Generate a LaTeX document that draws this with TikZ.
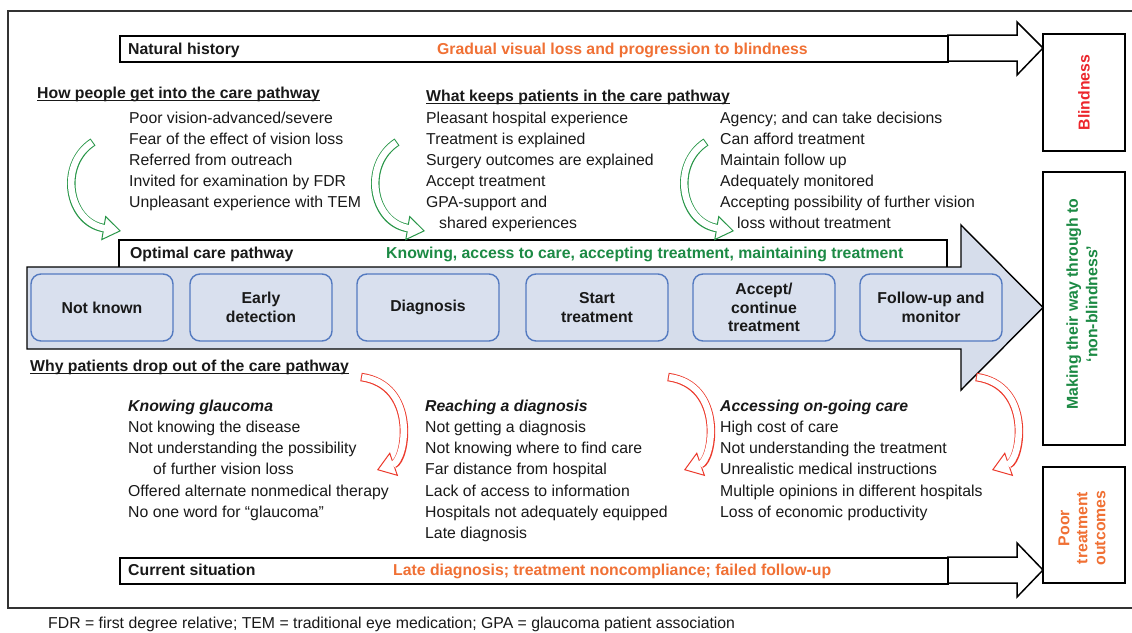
\documentclass[tikz,border=0pt]{standalone}
\usepackage{fontspec}
\setmainfont{Liberation Sans}
\usetikzlibrary{arrows.meta}
\definecolor{txt}{RGB}{25,25,25}
\definecolor{orng}{RGB}{240,112,52}
\definecolor{grntxt}{RGB}{28,138,68}
\definecolor{redtxt}{RGB}{236,38,44}
\definecolor{grnarr}{RGB}{40,150,72}
\definecolor{redarr}{RGB}{236,58,44}
\definecolor{bandfill}{RGB}{214,221,235}
\definecolor{boxfill}{RGB}{217,224,238}
\definecolor{boxline}{RGB}{84,122,192}
\newcommand\hollowcurve[2]{%
  \draw[#1, line width=8.5pt, -{Triangle[length=18pt,width=25pt,line width=1pt,fill=white]}] #2;
  \draw[white, line width=6.5pt, shorten <=1pt, shorten >=16.5pt] #2;
}
\begin{document}
\begin{tikzpicture}[x=1pt,y=-1pt,
  every node/.style={font=\fontsize{15.8}{19}\selectfont, text=txt},
  lbl/.style={anchor=base west, inner sep=0pt},
  hd/.style={lbl, font=\fontsize{15.8}{19}\selectfont\bfseries},
  sub/.style={lbl, font=\fontsize{15.8}{19}\selectfont\bfseries\itshape},
  stage/.style={draw=boxline, line width=1.4pt, fill=boxfill, rounded corners=10pt,
    minimum width=142pt, minimum height=67pt, align=center, inner sep=2pt,
    font=\fontsize{15.8}{18.5}\selectfont\bfseries},
  sidebox/.style={draw=black, line width=1.5pt, fill=white},
  barbox/.style={draw=black, line width=2pt, fill=white},
  hollow/.style={draw=black, line width=1.5pt, fill=white, line join=miter},
  ul/.style={line width=0.9pt, draw=txt}
]
\useasboundingbox (0,0) rectangle (1132,632);
\fill[white] (0,0) rectangle (1132,632);
% outer frame
\draw[line width=1.2pt, black!80] (8,11) rectangle (1145,608);

% right boxes
\node[sidebox, minimum width=82pt, minimum height=117pt] (blind) at (1084,92.5) {};
\node[rotate=90, font=\fontsize{15.8}{19}\selectfont\bfseries, text=redtxt] at (blind.center) {Blindness};
\node[sidebox, minimum width=82pt, minimum height=273pt] (making) at (1084,308.5) {};
\node[rotate=90, align=center, font=\fontsize{15.8}{19.5}\selectfont\bfseries, text=grntxt] at (1082,304) {Making their way through to\\‘non-blindness’};
\node[sidebox, minimum width=82pt, minimum height=116pt] (poor) at (1084,525) {};
\node[rotate=90, align=center, font=\fontsize{15.8}{18}\selectfont\bfseries, text=orng] at (1082,528) {Poor\\treatment\\outcomes};

% natural history bar
\draw[hollow] (947,35) -- (1017,35) -- (1017,22) -- (1043,48) -- (1017,75) -- (1017,61) -- (947,61);
\node[barbox, minimum width=828pt, minimum height=26pt, anchor=north west] (nat) at (119,35) {};
\node[hd] (natl) at (128,54.5) {Natural history};
\node[lbl, font=\fontsize{15.8}{19}\selectfont\bfseries, text=orng] (natt) at (437,54.5) {Gradual visual loss and progression to blindness};

% current situation bar
\draw[hollow] (947,557) -- (1017,557) -- (1017,543) -- (1043,570) -- (1017,597) -- (1017,583) -- (947,583);
\node[barbox, minimum width=828pt, minimum height=26pt, anchor=north west] (cur) at (119,557) {};
\node[hd] (curl) at (128,575) {Current situation};
\node[lbl, font=\fontsize{15.8}{19}\selectfont\bfseries, text=orng] (curt) at (393,575) {Late diagnosis; treatment noncompliance; failed follow-up};

% optimal care pathway box and big arrow
\node[barbox, minimum width=828pt, minimum height=28pt, anchor=north west] (opt) at (118,239) {};
\node[hd] (optl) at (130,258) {Optimal care pathway};
\node[lbl, font=\fontsize{15.8}{19}\selectfont\bfseries, text=grntxt] (optt) at (386,258) {Knowing, access to care, accepting treatment, maintaining treatment};
\draw[line width=1.4pt, fill=bandfill, line join=miter] (27,267) -- (961,267) -- (961,225) -- (1043,307.5) -- (961,390) -- (961,349) -- (27,349) -- cycle;

\node[stage] (s1) at (102,307.5) {Not known};
\node[stage] (s2) at (261,307.5) {Early\\detection};
\node[stage] (s3) at (428,307.5) {Diagnosis};
\node[stage] (s4) at (597,307.5) {Start\\treatment};
\node[stage] (s5) at (764,307.5) {Accept/\\continue\\treatment};
\node[stage] (s6) at (931,307.5) {Follow-up and\\monitor};

% upper headings and lists
\node[hd] (h1) at (37,98.5) {How people get into the care pathway};
\draw[ul] ([yshift=-2.2pt]h1.base west) -- ([yshift=-2.2pt]h1.base east);
\node[hd] (h2) at (426,101.5) {What keeps patients in the care pathway};
\draw[ul] ([yshift=-2.2pt]h2.base west) -- ([yshift=-2.2pt]h2.base east);

\node[lbl] (a1) at (129,123) {Poor vision-advanced/severe};
\node[lbl] (a2) at (129,144) {Fear of the effect of vision loss};
\node[lbl] (a3) at (129,165) {Referred from outreach};
\node[lbl] (a4) at (129,186) {Invited for examination by FDR};
\node[lbl] (a5) at (129,207) {Unpleasant experience with TEM};

\node[lbl] (b1) at (426,123) {Pleasant hospital experience};
\node[lbl] (b2) at (426,144) {Treatment is explained};
\node[lbl] (b3) at (426,165) {Surgery outcomes are explained};
\node[lbl] (b4) at (426,186) {Accept treatment};
\node[lbl] (b5) at (426,207) {GPA-support and};
\node[lbl] (b6) at (439,228) {shared experiences};

\node[lbl] (c1) at (720,123) {Agency; and can take decisions};
\node[lbl] (c2) at (720,144) {Can afford treatment};
\node[lbl] (c3) at (720,165) {Maintain follow up};
\node[lbl] (c4) at (720,186) {Adequately monitored};
\node[lbl] (c5) at (720,207) {Accepting possibility of further vision};
\node[lbl] (c6) at (737,228) {loss without treatment};

% lower heading and lists
\node[hd] (h3) at (30,371) {Why patients drop out of the care pathway};
\draw[ul] ([yshift=-2.2pt]h3.base west) -- ([yshift=-2.2pt]h3.base east);

\node[sub] (d0) at (128,411) {Knowing glaucoma};
\node[lbl] (d1) at (128,432.3) {Not knowing the disease};
\node[lbl] (d2) at (128,453.6) {Not understanding the possibility};
\node[lbl] (d3) at (153,474.9) {of further vision loss};
\node[lbl] (d4) at (128,496.2) {Offered alternate nonmedical therapy};
\node[lbl] (d5) at (128,517.5) {No one word for “glaucoma”};

\node[sub] (e0) at (425,411) {Reaching a diagnosis};
\node[lbl] (e1) at (425,432.3) {Not getting a diagnosis};
\node[lbl] (e2) at (425,453.6) {Not knowing where to find care};
\node[lbl] (e3) at (425,474.9) {Far distance from hospital};
\node[lbl] (e4) at (425,496.2) {Lack of access to information};
\node[lbl] (e5) at (425,517.5) {Hospitals not adequately equipped};
\node[lbl] (e6) at (425,538.8) {Late diagnosis};

\node[sub] (f0) at (720,411) {Accessing on-going care};
\node[lbl] (f1) at (720,432.3) {High cost of care};
\node[lbl] (f2) at (720,453.6) {Not understanding the treatment};
\node[lbl] (f3) at (720,474.9) {Unrealistic medical instructions};
\node[lbl] (f4) at (720,496.2) {Multiple opinions in different hospitals};
\node[lbl] (f5) at (720,517.5) {Loss of economic productivity};

% footer
\node[lbl] (foot) at (48,628) {FDR = first degree relative; TEM = traditional eye medication; GPA = glaucoma patient association};

% green curved arrows
\foreach \gx in {73,377,686}{
  \begin{scope}[shift={(\gx,0)}]
    \hollowcurve{grnarr}{(20,142) .. controls (-15,165) and (-5,222) .. (48,231)}
  \end{scope}
}
% red curved arrows
\foreach \rx in {403,710,1018}{
  \begin{scope}[shift={(\rx,0)}]
    \hollowcurve{redarr}{(-42,377) .. controls (15,385) and (3,460) .. (-26,470)}
  \end{scope}
}
\end{tikzpicture}
\end{document}
